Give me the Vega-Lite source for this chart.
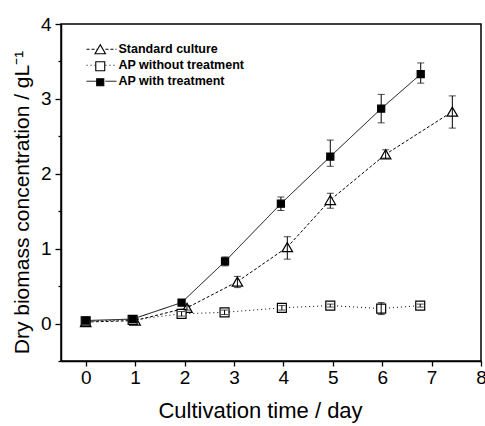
{
  "$schema": "https://vega.github.io/schema/vega-lite/v6.json",
  "autosize": {"type": "none"},
  "padding": {"left": 61, "top": 24, "right": 4, "bottom": 65},
  "width": 420,
  "height": 337,
  "background": "white",
  "config": {
    "view": {"stroke": "black", "strokeWidth": 1.5},
    "axis": {
      "labelFont": "Liberation Sans",
      "labelFontSize": 19,
      "labelColor": "black",
      "titleFont": "Liberation Sans",
      "titleFontSize": 20,
      "titleFontWeight": "normal",
      "titleColor": "black",
      "tickColor": "black",
      "domainColor": "black",
      "tickWidth": 1.3,
      "domainWidth": 1.5,
      "grid": false,
      "labelOverlap": false,
      "labelFlush": false,
      "labelBound": false
    }
  },
  "data": {
    "values": [
      {"series": "Standard culture", "day": 0, "value": 0.02, "lo": 0.0, "hi": 0.04},
      {"series": "Standard culture", "day": 1.0, "value": 0.04, "lo": 0.02, "hi": 0.06},
      {"series": "Standard culture", "day": 2.05, "value": 0.21, "lo": 0.18, "hi": 0.24},
      {"series": "Standard culture", "day": 3.07, "value": 0.56, "lo": 0.48, "hi": 0.63},
      {"series": "Standard culture", "day": 4.08, "value": 1.02, "lo": 0.86, "hi": 1.16},
      {"series": "Standard culture", "day": 4.95, "value": 1.65, "lo": 1.54, "hi": 1.74},
      {"series": "Standard culture", "day": 6.07, "value": 2.26, "lo": 2.21, "hi": 2.32},
      {"series": "Standard culture", "day": 7.42, "value": 2.83, "lo": 2.61, "hi": 3.04},
      {"series": "AP without treatment", "day": 0, "value": 0.03, "lo": 0.01, "hi": 0.05},
      {"series": "AP without treatment", "day": 0.95, "value": 0.05, "lo": 0.03, "hi": 0.07},
      {"series": "AP without treatment", "day": 1.94, "value": 0.13, "lo": 0.10, "hi": 0.16},
      {"series": "AP without treatment", "day": 2.81, "value": 0.15, "lo": 0.12, "hi": 0.18},
      {"series": "AP without treatment", "day": 3.97, "value": 0.21, "lo": 0.18, "hi": 0.24},
      {"series": "AP without treatment", "day": 4.95, "value": 0.24, "lo": 0.22, "hi": 0.26},
      {"series": "AP without treatment", "day": 5.98, "value": 0.20, "lo": 0.12, "hi": 0.28},
      {"series": "AP without treatment", "day": 6.77, "value": 0.24, "lo": 0.22, "hi": 0.26},
      {"series": "AP with treatment", "day": 0, "value": 0.04, "lo": 0.0, "hi": 0.08},
      {"series": "AP with treatment", "day": 0.95, "value": 0.06, "lo": 0.03, "hi": 0.09},
      {"series": "AP with treatment", "day": 1.94, "value": 0.28, "lo": 0.25, "hi": 0.31},
      {"series": "AP with treatment", "day": 2.82, "value": 0.83, "lo": 0.77, "hi": 0.89},
      {"series": "AP with treatment", "day": 3.95, "value": 1.60, "lo": 1.51, "hi": 1.69},
      {"series": "AP with treatment", "day": 4.95, "value": 2.23, "lo": 2.10, "hi": 2.45},
      {"series": "AP with treatment", "day": 5.98, "value": 2.87, "lo": 2.68, "hi": 3.06},
      {"series": "AP with treatment", "day": 6.78, "value": 3.33, "lo": 3.21, "hi": 3.48}
    ]
  },
  "encoding": {
    "x": {
      "field": "day",
      "type": "quantitative",
      "scale": {"domain": [-0.5, 8], "nice": false, "zero": false},
      "axis": {
        "values": [0, 1, 2, 3, 4, 5, 6, 7, 8],
        "tickSize": 5,
        "labelPadding": 2,
        "title": "Cultivation time / day",
        "titleFontSize": 22,
        "titlePadding": 13,
        "titleX": 199
      }
    }
  },
  "layer": [
    {
      "mark": {"type": "line", "color": "black", "strokeWidth": 1},
      "encoding": {
        "y": {"field": "value", "type": "quantitative", "axis": null},
        "detail": {"field": "series"},
        "strokeDash": {
          "field": "series",
          "type": "nominal",
          "scale": {"range": [[1, 0], [1, 3], [3, 2]]},
          "legend": {
            "orient": "top-left",
            "offset": 19,
            "title": null,
            "padding": 0,
            "values": ["Standard culture", "AP without treatment", "AP with treatment"],
            "symbolType": "M0.08,0H3.03M5.13,0H8.08",
            "symbolSize": 56,
            "symbolStrokeColor": "black",
            "symbolFillColor": "transparent",
            "symbolStrokeWidth": 1,
            "labelFont": "Liberation Sans",
            "labelFontSize": 12.5,
            "labelFontWeight": "bold",
            "labelColor": "black",
            "labelOffset": 26,
            "rowPadding": 3
          }
        }
      }
    },
    {
      "mark": {"type": "point", "filled": true, "stroke": "black", "strokeWidth": 1.2, "opacity": 1},
      "encoding": {
        "y": {
          "field": "value",
          "type": "quantitative",
          "scale": {"domain": [-0.5, 4], "nice": false, "zero": false},
          "axis": {
            "orient": "left",
            "values": [0, 1, 2, 3, 4],
            "tickSize": 6,
            "labelPadding": 4,
            "title": "Dry biomass concentration / gL⁻¹",
            "titleFontSize": 21,
            "titlePadding": 8,
            "titleY": 178
          }
        },
        "shape": {
          "field": "series",
          "type": "nominal",
          "scale": {
            "domain": ["Standard culture", "AP without treatment", "AP with treatment"],
            "range": ["triangle-up", "square", "square"]
          },
          "legend": {
            "orient": "none",
            "legendX": 33,
            "legendY": 19,
            "title": null,
            "padding": 0,
            "symbolStrokeColor": "black",
            "symbolStrokeWidth": 1.1,
            "symbolOpacity": 1,
            "labelFont": "Liberation Sans",
            "labelFontSize": 12.5,
            "labelFontWeight": "bold",
            "labelExpr": "''",
            "labelOffset": 14,
            "rowPadding": 3
          }
        },
        "fill": {
          "field": "series",
          "type": "nominal",
          "scale": {
            "domain": ["Standard culture", "AP without treatment", "AP with treatment"],
            "range": ["white", "white", "black"]
          }
        },
        "size": {
          "field": "series",
          "type": "nominal",
          "scale": {
            "domain": ["Standard culture", "AP without treatment", "AP with treatment"],
            "range": [110, 50, 72]
          }
        }
      }
    },
    {
      "mark": {"type": "errorbar", "color": "black", "ticks": {"size": 7, "thickness": 1}, "rule": {"strokeWidth": 1}},
      "encoding": {
        "y": {
          "field": "lo",
          "type": "quantitative",
          "axis": {
            "orient": "left",
            "values": [-0.5, 0.5, 1.5, 2.5, 3.5],
            "tickSize": 3,
            "labels": false,
            "domain": false,
            "title": null
          }
        },
        "y2": {"field": "hi"}
      }
    }
  ],
  "resolve": {"axis": {"y": "independent"}}
}
